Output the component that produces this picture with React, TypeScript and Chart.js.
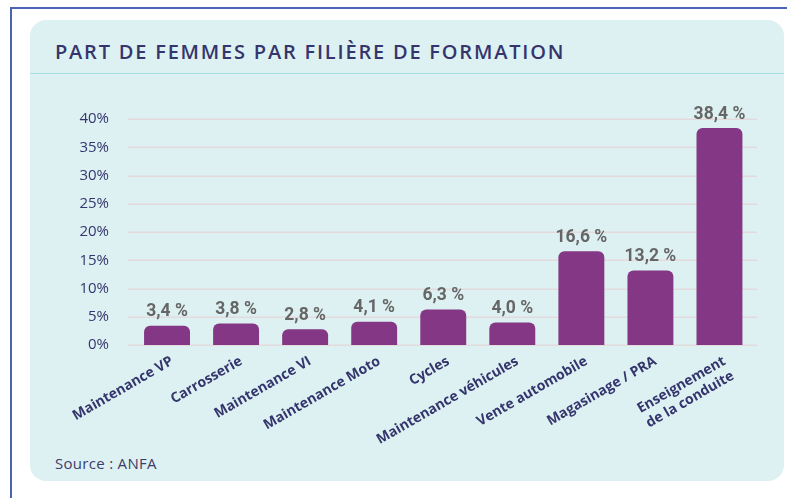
import React, { useEffect, useRef } from "react";
import { Chart, registerables } from "chart.js";

Chart.register(...registerables);

const categories: (string | string[])[] = [
  "Maintenance VP",
  "Carrosserie",
  "Maintenance VI",
  "Maintenance Moto",
  "Cycles",
  "Maintenance véhicules",
  "Vente automobile",
  "Magasinage / PRA",
  ["Enseignement", "de la conduite"],
];
const shareValues: number[] = [3.4, 3.8, 2.8, 4.1, 6.3, 4.0, 16.6, 13.2, 38.4];
const yTickValues: number[] = [0, 5, 10, 15, 20, 25, 30, 35, 40];

const TITLE = "PART DE FEMMES PAR FILIÈRE DE FORMATION";
const SOURCE = "Source : ANFA";

const NAVY = "#35356d";
const BAR = "#833784";

const gridPlugin = {
  id: "customGrid",
  beforeDatasetsDraw(chart: any) {
    const { ctx, chartArea, scales } = chart;
    const y = scales.y;
    ctx.save();
    ctx.strokeStyle = "#e4dadb";
    ctx.lineWidth = 1.5;
    yTickValues.forEach((v) => {
      const py = Math.round(y.getPixelForValue(v)) + 0.25;
      ctx.beginPath();
      ctx.moveTo(chartArea.left - 4.5, py);
      ctx.lineTo(chartArea.right + 3, py);
      ctx.stroke();
    });
    ctx.restore();
  },
};

const labelPlugin = {
  id: "valueLabels",
  afterDatasetsDraw(chart: any) {
    const { ctx } = chart;
    const meta = chart.getDatasetMeta(0);
    ctx.save();
    ctx.font = "bold 17.5px Roboto";
    ctx.fillStyle = "#666666";
    ctx.textAlign = "center";
    ctx.textBaseline = "alphabetic";
    meta.data.forEach((bar: any, i: number) => {
      const { x, y } = bar.getProps(["x", "y"], true);
      const txt = shareValues[i].toFixed(1).replace(".", ",") + " %";
      ctx.fillText(txt, x, y - 9.5);
    });
    ctx.restore();
  },
};

export default function App() {
  const canvasRef = useRef<HTMLCanvasElement | null>(null);

  useEffect(() => {
    if (!canvasRef.current) return;
    const chart = new Chart(canvasRef.current, {
      type: "bar",
      data: {
        labels: categories,
        datasets: [
          {
            data: shareValues,
            backgroundColor: BAR,
            borderRadius: 6,
            borderSkipped: "start",
            categoryPercentage: 1,
            barPercentage: 0.665,
          },
        ],
      },
      options: {
        responsive: false,
        animation: false,
        devicePixelRatio: 1,
        layout: { padding: { left: 0, right: 30, top: 39, bottom: 0 } },
        plugins: {
          legend: { display: false },
          tooltip: { enabled: false },
        },
        scales: {
          x: {
            grid: { display: false, drawTicks: false },
            border: { display: false },
            ticks: {
              autoSkip: false,
              minRotation: 30,
              maxRotation: 30,
              padding: 8,
              labelOffset: 5,
              color: NAVY,
              font: { family: "'Open Sans'", size: 14, weight: "bold" },
            },
            afterFit(scale: any) {
              scale.height = 105;
            },
          },
          y: {
            min: 0,
            max: 40,
            grid: { display: false, drawTicks: false },
            border: { display: false },
            ticks: {
              stepSize: 5,
              padding: 23.5,
              color: NAVY,
              font: { family: "'Open Sans'", size: 15 },
              callback: (v: any) => v + "%",
            },
            afterFit(scale: any) {
              scale.width = 102.5;
            },
          },
        },
      },
      plugins: [gridPlugin, labelPlugin],
    });
    return () => chart.destroy();
  }, []);

  return (
    <div style={{ position: "absolute", left: 0, top: 0, width: 787, height: 498, overflow: "hidden", background: "#ffffff" }}>
      <div
        style={{
          position: "absolute",
          left: 10,
          top: 7,
          width: 800,
          height: 520,
          borderTop: "2px solid #4a64b6",
          borderLeft: "2px solid #4a64b6",
        }}
      />
      <div
        style={{
          position: "absolute",
          left: 30,
          top: 20,
          width: 754,
          height: 461,
          background: "#ddf1f2",
          borderRadius: 16,
        }}
      />
      <div
        style={{
          position: "absolute",
          left: 30,
          top: 73,
          width: 754,
          height: 1,
          background: "#a6dde3",
        }}
      />
      <div
        style={{
          position: "absolute",
          left: 55,
          top: 38,
          fontFamily: "'Open Sans'",
          fontWeight: 600,
          fontSize: 20,
          lineHeight: "28px",
          color: NAVY,
          whiteSpace: "nowrap",
          letterSpacing: 1.8,
        }}
      >
        {TITLE}
      </div>
      <div
        style={{
          position: "absolute",
          left: 55,
          top: 453,
          fontFamily: "'Open Sans'",
          fontSize: 15,
          lineHeight: "20px",
          color: "#3d3d6b",
          whiteSpace: "nowrap",
          letterSpacing: 0.3,
        }}
      >
        {SOURCE}
      </div>
      <canvas
        ref={canvasRef}
        width={754}
        height={370}
        style={{ position: "absolute", left: 30, top: 80, width: 754, height: 370 }}
      />
    </div>
  );
}
